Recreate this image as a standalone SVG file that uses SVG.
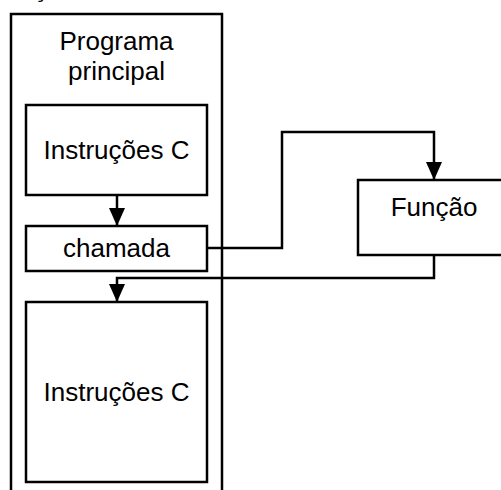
<svg xmlns="http://www.w3.org/2000/svg" width="501" height="490" viewBox="0 0 501 490">
<style>
.box{fill:#fff;stroke:#000;stroke-width:2.5}
.lbl{font-family:"Liberation Sans",Arial,sans-serif;font-size:26px;fill:#000;text-anchor:middle}
.con{fill:none;stroke:#000;stroke-width:2.5}
</style>
<defs>
<marker id="arr" viewBox="0 0 18 16" refX="18" refY="8" markerWidth="18" markerHeight="16" markerUnits="userSpaceOnUse" orient="auto">
<path d="M0,0 L18,8 L0,16 Z" fill="#000"/>
</marker>
</defs>
<rect width="501" height="490" fill="#fff"/>
<text class="lbl" x="40" y="-3">ç</text>
<g id="programa">
<rect class="box" x="11" y="14" width="211" height="500"/>
<text class="lbl" x="116.5" y="50">Programa</text>
<text class="lbl" x="116.5" y="80">principal</text>
</g>
<g id="instrucoes1">
<rect class="box" x="26" y="105" width="181" height="90"/>
<text class="lbl" x="116.5" y="159">Instruções C</text>
</g>
<g id="chamada">
<rect class="box" x="26" y="226" width="181" height="45"/>
<text class="lbl" x="116.5" y="257">chamada</text>
</g>
<g id="instrucoes2">
<rect class="box" x="26" y="302" width="181" height="180"/>
<text class="lbl" x="116.5" y="401">Instruções C</text>
</g>
<g id="funcao">
<rect class="box" x="358" y="180" width="160" height="75"/>
<text class="lbl" x="434" y="216">Função</text>
</g>
<g id="connectors">
<path class="con" d="M117,195 L117,226" marker-end="url(#arr)"/>
<path class="con" d="M207,248 L282,248 L282,132 L434,132 L434,180" marker-end="url(#arr)"/>
<path class="con" d="M434,255 L434,278 L117,278 L117,302" marker-end="url(#arr)"/>
</g>
</svg>
